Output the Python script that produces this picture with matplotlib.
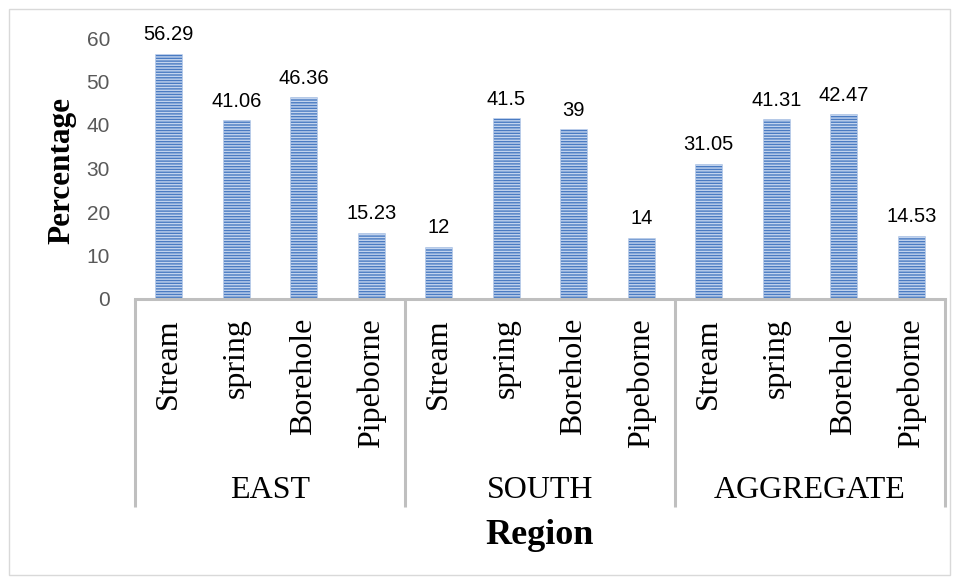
import matplotlib
matplotlib.use("Agg")
import matplotlib.pyplot as plt
from matplotlib.patches import Rectangle

regions = ["EAST", "SOUTH", "AGGREGATE"]
sources = ["Stream", "spring", "Borehole", "Pipeborne"]
east = [56.29, 41.06, 46.36, 15.23]
south = [12, 41.5, 39, 14]
aggregate = [31.05, 41.31, 42.47, 14.53]
y_ticks = [0, 10, 20, 30, 40, 50, 60]

values = east + south + aggregate
labels = sources * len(regions)
xpos = list(range(len(values)))

plt.rcParams["hatch.linewidth"] = 1.0

fig = plt.figure(figsize=(9.6, 5.83), dpi=100)
fig.patches.append(Rectangle((9 / 960, 1 - 575 / 583), 941 / 960, 566 / 583,
                             transform=fig.transFigure, fill=False,
                             edgecolor="#d9d9d9", linewidth=1.0))

ax = fig.add_axes([135 / 960, 1 - 299 / 583, 810 / 960, 261 / 583])

bars = ax.bar(xpos, values, width=0.4, color="#4a7bc2",
              edgecolor="#c3d4ee", linewidth=0.4, hatch="------")

for x, v in zip(xpos, values):
    ax.annotate(f"{v:g}", (x, v), xytext=(0, 7), textcoords="offset points",
                ha="center", va="bottom", fontsize=14.5,
                family="Liberation Sans", color="black")

ax.set_xlim(-0.5, len(values) - 0.5)
ax.set_ylim(0, 60)
ax.set_yticks(y_ticks)
ax.set_yticklabels([str(t) for t in y_ticks], fontsize=15,
                   family="Liberation Sans", color="#595959")
ax.tick_params(axis="y", length=0, pad=18)
ax.set_xticks([])

for side in ["left", "right", "top"]:
    ax.spines[side].set_visible(False)
ax.spines["bottom"].set_color("#bfbfbf")
ax.spines["bottom"].set_linewidth(2.2)

xt = ax.get_xaxis_transform()
# category labels, rotated, hanging below the axis
for x, lab in zip(xpos, labels):
    ax.text(x, -0.073, lab, transform=xt, rotation=90, ha="center", va="top",
            fontsize=23, family="Liberation Serif", color="black")

# group dividers and group names
n = len(sources)
for g in range(len(regions) + 1):
    xd = g * n - 0.5
    ax.plot([xd, xd], [0, -0.797], transform=xt, color="#bfbfbf",
            linewidth=2.2, clip_on=False, solid_capstyle="butt")
for g, name in enumerate(regions):
    ax.text(g * n + (n - 1) / 2, -0.732, name, transform=xt, ha="center",
            va="center", fontsize=23, family="Liberation Serif", color="black")

fig.text(540 / 960, 1 - 535 / 583, "Region", ha="center", va="center",
         fontsize=26, fontweight="bold", family="Liberation Serif")
fig.text(62 / 960, 1 - 170 / 583, "Percentage", ha="center", va="center",
         rotation=90, fontsize=22.5, fontweight="bold", family="Liberation Serif")

fig.savefig("out.png", dpi=100)
